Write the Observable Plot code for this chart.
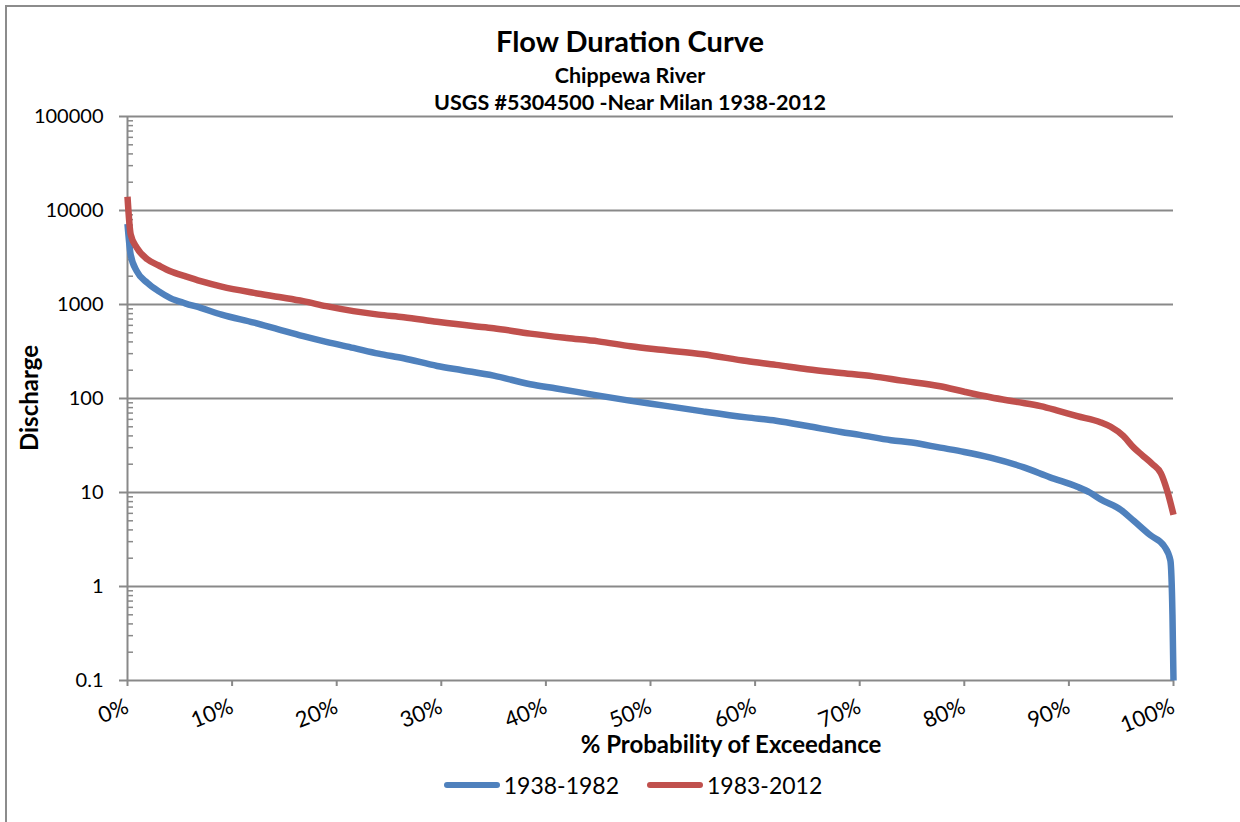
<!DOCTYPE html>
<html>
<head>
<meta charset="utf-8">
<script src="https://cdn.jsdelivr.net/npm/d3@7"></script>
<script src="https://cdn.jsdelivr.net/npm/@observablehq/plot@0.6"></script>
<style>
  html, body { margin: 0; padding: 0; background: #fff; overflow: hidden; }
  #wrap { position: relative; width: 1240px; height: 822px; font-family: Lato, "Open Sans", sans-serif; color: #000; }
  #border { position: absolute; left: 5px; top: 5px; width: 1400px; height: 1000px; border: 2px solid #8c8c8c; box-sizing: border-box; }
  #chart { position: absolute; left: 0; top: 0; }
  .t { position: absolute; left: 0; width: 1260px; text-align: center; font-weight: bold; white-space: nowrap; }
  #title { top: 23px; font-size: 29px; }
  #sub1 { top: 62px; font-size: 21.5px; }
  #sub2 { top: 89px; font-size: 21.5px; }
  #xlabel { position: absolute; left: 0; width: 1462px; top: 729px; text-align: center; font-weight: bold; font-size: 24px; white-space: nowrap; }
  #ylabel { position: absolute; left: 28px; top: 398px; transform: translate(-50%, -50%) rotate(-90deg); font-weight: bold; font-size: 24px; white-space: nowrap; }
  #legend { position: absolute; left: 0; width: 1266px; top: 771px; display: flex; justify-content: center; align-items: center; font-size: 23px; }
  .item { display: flex; align-items: center; margin: 0 14px; }
  .sw { width: 56px; height: 6px; border-radius: 3px; margin-right: 4px; }
</style>
</head>
<body>
<div id="wrap">
  <div id="border"></div>
  <div id="chart"></div>
  <div class="t" id="title">Flow Duration Curve</div>
  <div class="t" id="sub1">Chippewa River</div>
  <div class="t" id="sub2">USGS #5304500 -Near Milan 1938-2012</div>
  <div id="xlabel">% Probability of Exceedance</div>
  <div id="ylabel">Discharge</div>
  <div id="legend"></div>
</div>
<script>
// Series names and colours
const seriesNames = ["1938-1982", "1983-2012"];
const seriesColors = ["#4F81BD", "#C0504D"];

// 1938-1982: % exceedance and discharge
const pctA = [0, 0.3, 0.9, 1.9, 3, 4.1, 5.5, 7, 9, 12.1, 14.5, 16.8, 19, 21.6, 24, 26.4, 29.6, 32, 35, 38.5, 41, 44.9, 48, 51.3, 55, 59.2, 62, 65, 68.2, 70, 73, 75, 77.7, 80, 82.5, 85.7, 88.2, 90.8, 92, 93, 95, 96.2, 97.8, 99.1, 99.7, 99.9, 100];
const flowA = [7200, 3400, 2250, 1700, 1380, 1170, 1030, 920, 780, 640, 540, 460, 400, 345, 300, 268, 222, 200, 175, 142, 128, 108, 95, 84, 73, 63, 58, 51, 44, 41, 36, 34, 30, 27, 23.5, 18.5, 14.5, 11.5, 10, 8.5, 6.5, 5, 3.5, 2.7, 1.9, 0.5, 0.1];

// 1983-2012: % exceedance and discharge
const pctB = [0, 0.3, 0.9, 1.9, 3, 4.1, 5.5, 7, 9, 12.1, 14.5, 16.8, 19, 21.6, 24, 26.4, 29.6, 33, 35, 38.5, 42, 45, 48.1, 51, 55, 59.2, 62, 65, 68, 71.3, 74, 77.7, 80, 82.5, 85, 87.3, 89, 90.8, 93, 94, 95.2, 96.2, 97, 98, 98.8, 99.4, 100];
const flowB = [14000, 5600, 4000, 3030, 2600, 2260, 2000, 1770, 1550, 1330, 1200, 1085, 960, 850, 780, 733, 655, 590, 560, 490, 440, 405, 360, 330, 295, 250, 228, 205, 188, 172, 155, 135, 118, 103, 92, 83, 74, 65, 56, 50, 40, 30, 25, 20, 16, 10.4, 5.8];

// Axis ticks
const xTicks = [0, 10, 20, 30, 40, 50, 60, 70, 80, 90, 100];
const yTicks = [0.1, 1, 10, 100, 1000, 10000, 100000];
const yTickLabels = ["0.1", "1", "10", "100", "1000", "10000", "100000"];

const minorTicks = [];
for (let i = 0; i < yTicks.length - 1; i++) {
  for (let m = 2; m <= 9; m++) minorTicks.push(+(yTicks[i] * m).toPrecision(6));
}

const rows = [
  ...pctA.map((p, i) => ({pct: p, flow: flowA[i], series: seriesNames[0]})),
  ...pctB.map((p, i) => ({pct: p, flow: flowB[i], series: seriesNames[1]}))
];

const gridColor = "#898989";

const chart = Plot.plot({
  width: 1240,
  height: 822,
  marginLeft: 127,
  marginRight: 67,
  marginTop: 116,
  marginBottom: 142,
  style: {fontFamily: "Lato, 'Open Sans', sans-serif", fontSize: "20px", color: "#000", background: "transparent"},
  x: {domain: [0, 100]},
  y: {type: "log", domain: [0.1, 100000]},
  color: {domain: seriesNames, range: seriesColors},
  marks: [
    Plot.gridY(yTicks, {stroke: gridColor, strokeOpacity: 1, strokeWidth: 2}),
    Plot.ruleY(minorTicks, {stroke: gridColor, strokeWidth: 1.5, insetRight: 1040}),
    Plot.ruleX([0], {stroke: gridColor, strokeWidth: 2}),
    Plot.axisY(yTicks, {
      tickSize: 8, tickPadding: 16, stroke: gridColor, strokeWidth: 2, fill: "#000", fontSize: 20,
      tickFormat: d => yTickLabels[yTicks.indexOf(d)], label: null
    }),
    Plot.axisX(xTicks, {
      tickSize: 6, tickPadding: 19, tickRotate: -22, stroke: gridColor, strokeWidth: 2, fill: "#000", fontSize: 22,
      tickFormat: d => d + "%", label: null
    }),
    Plot.line(rows, {x: "pct", y: "flow", z: "series", stroke: "series", strokeWidth: 6.5, curve: "monotone-x", strokeLinejoin: "round", strokeLinecap: "butt"})
  ]
});
document.getElementById("chart").appendChild(chart);

const legend = document.getElementById("legend");
seriesNames.forEach((name, i) => {
  const item = document.createElement("div");
  item.className = "item";
  const sw = document.createElement("div");
  sw.className = "sw";
  sw.style.background = seriesColors[i];
  const lab = document.createElement("span");
  lab.textContent = name;
  item.appendChild(sw);
  item.appendChild(lab);
  legend.appendChild(item);
});
</script>
</body>
</html>
